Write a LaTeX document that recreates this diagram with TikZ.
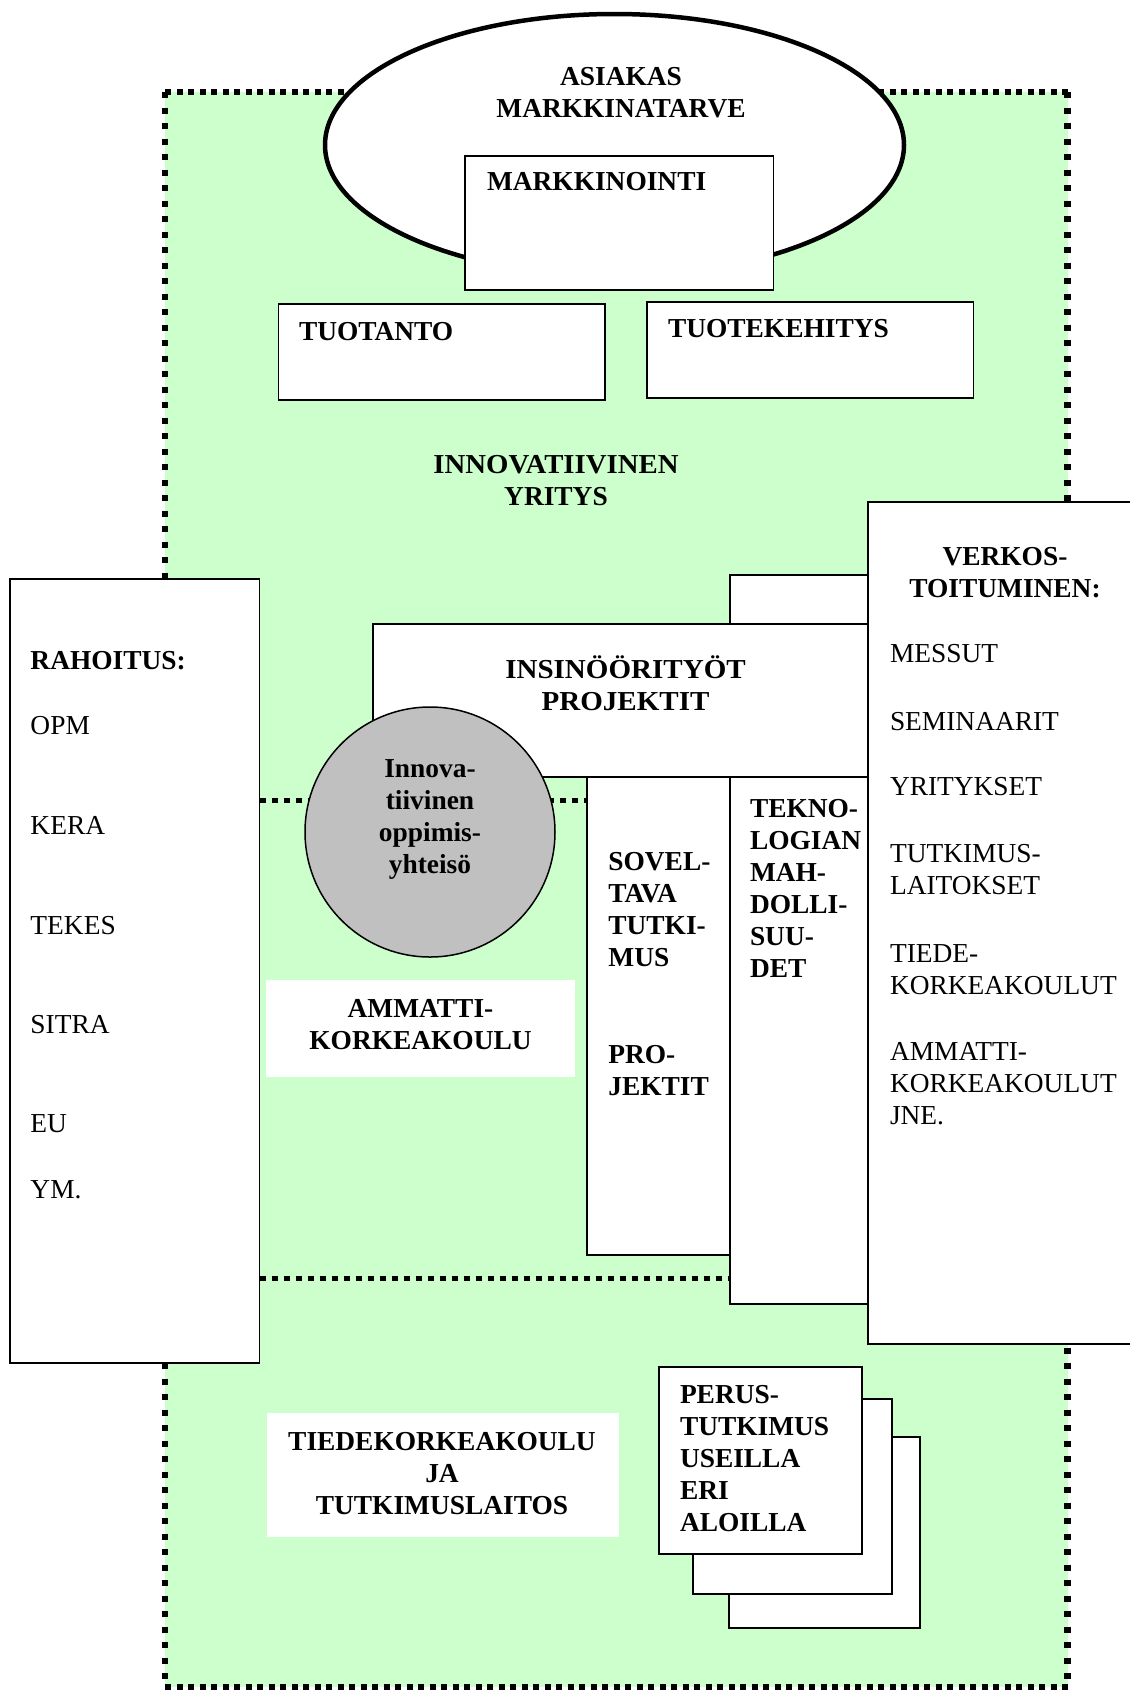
\documentclass[tikz,border=0pt]{standalone}
\usepackage{fontspec}
\setmainfont{Liberation Serif}
\definecolor{paleGreen}{RGB}{204,255,204}
\definecolor{discGrey}{RGB}{192,192,192}
% stacked lines: first baseline is the box baseline
\newcommand\cstack[1]{\vtop{\halign{\hfil##\hfil\cr#1\crcr}}}
\newcommand\lstack[1]{\vtop{\halign{##\hfil\cr#1\crcr}}}
\newcommand\wider[2]{\scalebox{#1}[1]{#2}}
\begin{document}
\begin{tikzpicture}[x=1pt,y=-1pt,
  lbl/.style={inner sep=0pt, outer sep=0pt, font=\fontsize{27.4}{32}\selectfont},
  head/.style={inner sep=0pt, outer sep=0pt, font=\fontsize{27.4}{32}\selectfont\bfseries},
  panel/.style={draw=black, fill=white, line width=1.8pt},
  hedge/.style={line width=5.5pt, dash pattern=on 6pt off 5.5pt},
  vedge/.style={line width=6.5pt, dash pattern=on 6pt off 9.5pt},
  divider/.style={line width=5pt, dash pattern=on 6pt off 6pt},
]
\useasboundingbox (0,0) rectangle (1130,1690);
\clip (0,0) rectangle (1130,1690);

% company area
\path[fill=paleGreen] (165,92) rectangle (1067.5,1687);
\draw[hedge] (165,92) -- (1067.5,92);
\draw[hedge] (165,1687) -- (1067.5,1687);
\draw[vedge] (165,92) -- (165,1687);
\draw[vedge] (1067.5,92) -- (1067.5,1687);

% dividers between the zones
\draw[divider] (259.5,800.5) -- (587,800.5);
\draw[divider] (259.5,1278) -- (730,1278);

% customer
\draw[line width=4.5pt, fill=white] (614.5,145) ellipse [x radius=289.5pt, y radius=131pt];
\node[head, anchor=base] (asiakas) at (621,85.5) {\cstack{ASIAKAS\cr MARKKINATARVE}};

% company functions
\draw[panel] (465,156) rectangle (773.5,290);
\node[head, anchor=base west] (markk) at (487,190.7) {MARKKINOINTI};
\draw[panel] (278.4,304.3) rectangle (604.8,400);
\node[head, anchor=base west] (tuotanto) at (299,340) {TUOTANTO};
\draw[panel] (647,302.3) rectangle (973.4,398.3);
\node[head, anchor=base west] (tuotekeh) at (668,337.7) {TUOTEKEHITYS};
\node[head, anchor=base] (yritys) at (556,473.3) {\cstack{\wider{1.05}{INNOVATIIVINEN}\cr YRITYS}};

% funding
\draw[panel] (9.6,578.8) rectangle (259.5,1363);
\node[head, anchor=base west] (rahoitus) at (30.5,669.4) {RAHOITUS:};
\node[lbl, anchor=base west] (opm) at (30.5,734.5) {OPM};
\node[lbl, anchor=base west] (kera) at (30.5,834.5) {KERA};
\node[lbl, anchor=base west] (tekes) at (30.5,934) {TEKES};
\node[lbl, anchor=base west] (sitra) at (30.5,1033) {SITRA};
\node[lbl, anchor=base west] (eu) at (30.5,1132.5) {EU};
\node[lbl, anchor=base west] (ym) at (30.5,1198) {YM.};

% columns and projects
\draw[panel] (730,575) rectangle (868,1304);
\draw[panel] (587,777) rectangle (730,1255);
\draw[panel] (373,624) rectangle (868,777);
\node[head, anchor=base] (insin) at (625.5,678) {\wider{1.06}{\cstack{INSINÖÖRITYÖT\cr PROJEKTIT}}};
\node[head, anchor=base west] (sovel) at (608.4,870) {\lstack{SOVEL-\cr TAVA\cr TUTKI-\cr MUS}};
\node[head, anchor=base west] (projektit) at (608.4,1063) {\lstack{PRO-\cr JEKTIT}};
\node[head, anchor=base west] (tekno) at (750,817) {\lstack{TEKNO-\cr LOGIAN\cr MAH-\cr DOLLI-\cr SUU-\cr DET}};

% networking
\draw[panel] (868,502) rectangle (1140,1344);
\node[head, anchor=base] (verkos) at (1005,565) {\cstack{VERKOS-\cr TOITUMINEN:}};
\node[lbl, anchor=base west] (messut) at (890,662.5) {MESSUT};
\node[lbl, anchor=base west] (semin) at (890,730) {SEMINAARIT};
\node[lbl, anchor=base west] (yrityks) at (890,795) {YRITYKSET};
\node[lbl, anchor=base west] (tutklait) at (890,862.5) {\lstack{TUTKIMUS-\cr LAITOKSET}};
\node[lbl, anchor=base west] (tiede) at (890,962) {\lstack{TIEDE-\cr KORKEAKOULUT}};
\node[lbl, anchor=base west] (amkit) at (890,1060.5) {\lstack{AMMATTI-\cr KORKEAKOULUT\cr JNE.}};

% learning community
\draw[line width=1.5pt, fill=discGrey] (430,832) circle [radius=125pt];
\node[head, anchor=base] (yhteiso) at (430,777) {\cstack{Innova-\cr tiivinen\cr oppimis-\cr yhteisö}};

% institutions
\path[fill=white] (266,979.6) rectangle (575,1076.5);
\node[head, anchor=base] (amk) at (420.5,1017.6) {\cstack{AMMATTI-\cr KORKEAKOULU}};
\path[fill=white] (266.8,1413.3) rectangle (618.9,1536.7);
\node[head, anchor=base] (tkk) at (442,1450) {\cstack{TIEDEKORKEAKOULU\cr JA\cr TUTKIMUSLAITOS}};

% basic research sheets
\draw[panel] (729.3,1437) rectangle (920.3,1628.3);
\draw[panel] (693.3,1399) rectangle (892.3,1594);
\draw[panel] (659.3,1367) rectangle (862.3,1554.3);
\node[head, anchor=base west] (perus) at (680,1403.3) {\lstack{PERUS-\cr TUTKIMUS\cr USEILLA\cr ERI\cr ALOILLA}};
\end{tikzpicture}
\end{document}
